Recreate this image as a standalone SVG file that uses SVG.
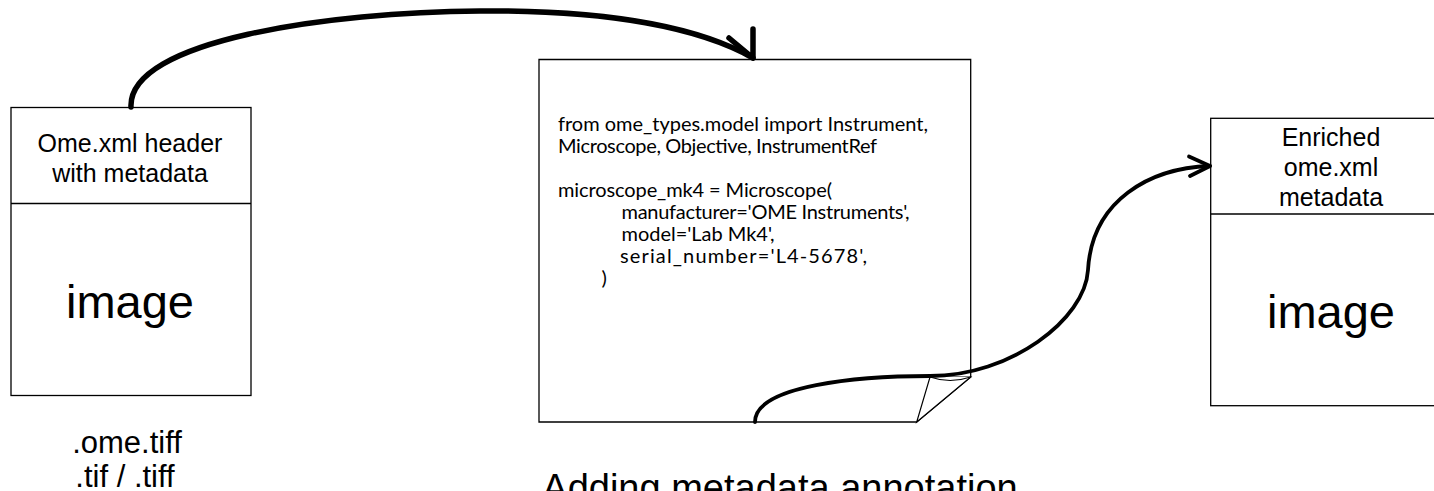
<svg xmlns="http://www.w3.org/2000/svg" width="1434" height="491" viewBox="0 0 1434 491">
  <style>
    .box { fill: #ffffff; stroke: #000000; stroke-width: 1.3; }
    .lbl { font-family: "Liberation Sans", Arial, sans-serif; fill: #000000; text-anchor: middle; }
    .hdr { font-size: 25px; }
    .img { font-size: 47px; }
    .ext { font-size: 31px; }
    .code { font-family: Lato, "Open Sans", sans-serif; font-size: 20px; fill: #000000; }
    .conn { fill: none; stroke: #000000; stroke-linecap: round; stroke-linejoin: round; }
    .thick { stroke-width: 5.5; }
    .mid { stroke-width: 3.8; }
    .curl { fill: #ffffff; stroke: #000000; stroke-width: 1.2; stroke-linejoin: miter; }
  </style>
  <rect width="1434" height="491" fill="#ffffff"/>

  <g id="node-source">
    <rect class="box" x="11" y="107.5" width="240" height="288"/>
    <line class="box" x1="11" y1="203.5" x2="251" y2="203.5"/>
    <text class="lbl hdr" x="130" y="151.5">Ome.xml header</text>
    <text class="lbl hdr" x="130" y="181.5">with metadata</text>
    <text class="lbl img" x="130" y="318">image</text>
    <text class="lbl ext" x="127" y="453">.ome.tiff</text>
    <text class="lbl ext" x="125" y="487">.tif / .tiff</text>
  </g>

  <g id="node-script">
    <path class="box" d="M539,59.5 H970.7 V377 L916.7,422 H539 Z"/>
    <path class="curl" d="M970.7,377 L930,377 L916.7,422 Z"/>
    <path class="curl" d="M930,377 Q950,384 970.7,377" fill="none"/>
    <text class="code" x="558" y="131" textLength="370" lengthAdjust="spacing">from ome_types.model import Instrument,</text>
    <text class="code" x="558" y="153" textLength="319" lengthAdjust="spacing">Microscope, Objective, InstrumentRef</text>
    <text class="code" x="558" y="197" textLength="274" lengthAdjust="spacing">microscope_mk4 = Microscope(</text>
    <text class="code" x="621.5" y="219" textLength="288" lengthAdjust="spacing">manufacturer='OME Instruments',</text>
    <text class="code" x="621.5" y="241" textLength="153" lengthAdjust="spacing">model='Lab Mk4',</text>
    <text class="code" x="620" y="263" textLength="247" lengthAdjust="spacing">serial_number='L4-5678',</text>
    <text class="code" x="601.5" y="285">)</text>
  </g>

  <g id="node-result">
    <rect class="box" x="1210.7" y="118.3" width="240" height="287.4"/>
    <line class="box" x1="1210.7" y1="214" x2="1450.7" y2="214"/>
    <text class="lbl hdr" x="1331" y="146">Enriched</text>
    <text class="lbl hdr" x="1331" y="175.5">ome.xml</text>
    <text class="lbl hdr" x="1331" y="206">metadata</text>
    <text class="lbl img" x="1331" y="328">image</text>
  </g>

  <g id="connectors">
    <path class="conn thick" d="M131,107 C128,40 330,12 480,11 C610,10 700,28 753,58"/>
    <polyline class="conn thick" points="729,38 753,58 753,29"/>
    <path class="conn mid" d="M755,422 C755,385 860,376 930,376 C1010,376 1085,320 1088,270 C1092,200 1150,168 1210,166"/>
    <polyline class="conn mid" points="1189,156.5 1210,166 1190,176"/>
  </g>

  <g id="caption">
    <text class="lbl" x="780" y="501" font-size="38">Adding metadata annotation</text>
  </g>
</svg>
